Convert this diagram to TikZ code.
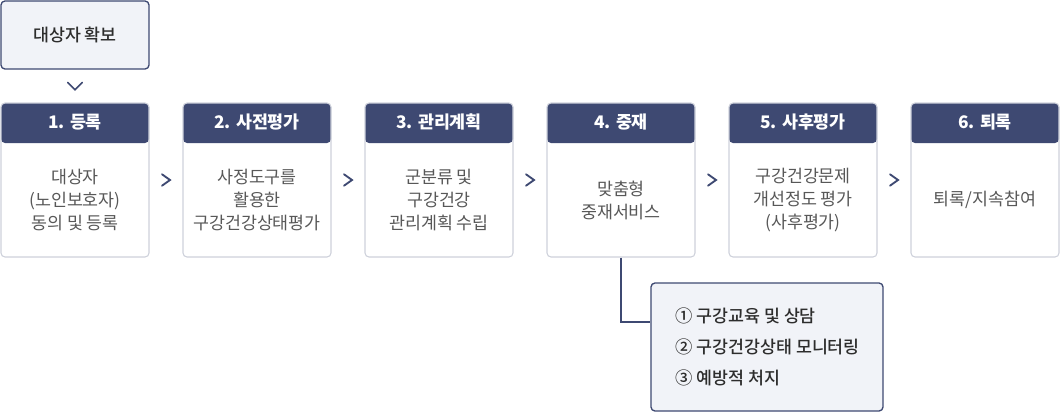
\documentclass[tikz,border=0pt]{standalone}
\usepackage{fontspec}
\setmainfont{Noto Sans CJK KR}
\newfontfamily\mediumfont{Noto Sans CJK KR Medium}
\usetikzlibrary{positioning,calc}
\definecolor{navy}{RGB}{62,73,114}
\definecolor{linegray}{RGB}{206,209,219}
\definecolor{textgray}{RGB}{88,88,88}
\definecolor{darktext}{RGB}{45,45,45}
\definecolor{paleblue}{RGB}{241,243,248}
\tikzset{
  stepbox/.style={draw=linegray, line width=0.8pt, fill=white, rounded corners=3pt,
    minimum width=111pt, minimum height=115.5pt, inner sep=0pt,
    path picture={\fill[navy] (path picture bounding box.north west) rectangle
      ([yshift=-30pt]path picture bounding box.north east);}},
  head/.style={text=white, font=\fontsize{13pt}{15pt}\selectfont\bfseries, inner sep=0pt},
  body/.style={text=textgray, align=center, font=\fontsize{13pt}{17.2pt}\selectfont, inner sep=0pt},
  notebox/.style={draw=navy, line width=1pt, fill=paleblue, rounded corners=3pt, inner sep=0pt},
  chev/.style={draw=navy, line width=1.4pt, line cap=round, line join=miter}
}
\begin{document}
\begin{tikzpicture}[x=0.75pt,y=-0.75pt]
\useasboundingbox (0,0) rectangle (1060,412);

% Top: target securing
\node[notebox, minimum width=111pt, minimum height=51pt, text=darktext,
      font=\fontsize{13pt}{15pt}\selectfont\mediumfont] (Top) at (75,35) {대상자 확보};

% Row of steps
\node[stepbox] (S1) at (75,180) {};
\node[stepbox] (S2) at (257,180) {};
\node[stepbox] (S3) at (439,180) {};
\node[stepbox] (S4) at (621,180) {};
\node[stepbox] (S5) at (803,180) {};
\node[stepbox] (S6) at (985,180) {};

% Step titles
\node[head] (H1) at ([yshift=-15pt]S1.north) {1. 등록};
\node[head] (H2) at ([yshift=-15pt]S2.north) {2. 사전평가};
\node[head] (H3) at ([yshift=-15pt]S3.north) {3. 관리계획};
\node[head] (H4) at ([yshift=-15pt]S4.north) {4. 중재};
\node[head] (H5) at ([yshift=-15pt]S5.north) {5. 사후평가};
\node[head] (H6) at ([yshift=-15pt]S6.north) {6. 퇴록};

% Step contents
\node[body] (B1) at ([yshift=-15pt]S1.center) {대상자\\(노인보호자)\\동의 및 등록};
\node[body] (B2) at ([yshift=-15pt]S2.center) {사정도구를\\활용한\\구강건강상태평가};
\node[body] (B3) at ([yshift=-15pt]S3.center) {군분류 및\\구강건강\\관리계획 수립};
\node[body] (B4) at ([yshift=-15pt]S4.center) {맞춤형\\중재서비스};
\node[body] (B5) at ([yshift=-15pt]S5.center) {구강건강문제\\개선정도 평가\\(사후평가)};
\node[body] (B6) at ([yshift=-15pt]S6.center) {퇴록/지속참여};

% Intervention details
\node[notebox, minimum width=174pt, minimum height=96pt] (Sub) at (767,347) {};
\node[anchor=west, align=left, text=darktext, inner sep=0pt,
      font=\fontsize{13pt}{23pt}\selectfont\mediumfont] (SubTxt) at (675,347)
  {① 구강교육 및 상담\\② 구강건강상태 모니터링\\③ 예방적 처지};

% Chevrons between steps
\foreach \a/\b in {S1/S2,S2/S3,S3/S4,S4/S5,S5/S6}{
  \coordinate (m) at ($(\a.east)!0.5!(\b.west)$);
  \draw[chev] ([xshift=-3pt,yshift=4.3pt]m) -- ([xshift=3pt]m) -- ([xshift=-3pt,yshift=-4.3pt]m);
}
\coordinate (d) at ($(Top.south)!0.5!(S1.north)$);
\draw[chev, line width=1.2pt] ([xshift=-5.5pt,yshift=2.8pt]d) -- ([yshift=-2.8pt]d) -- ([xshift=5.5pt,yshift=2.8pt]d);

% Link from intervention to its details
\draw[navy, line width=1pt] (S4.south) |- ([yshift=18.75pt]Sub.west);

\end{tikzpicture}
\end{document}
